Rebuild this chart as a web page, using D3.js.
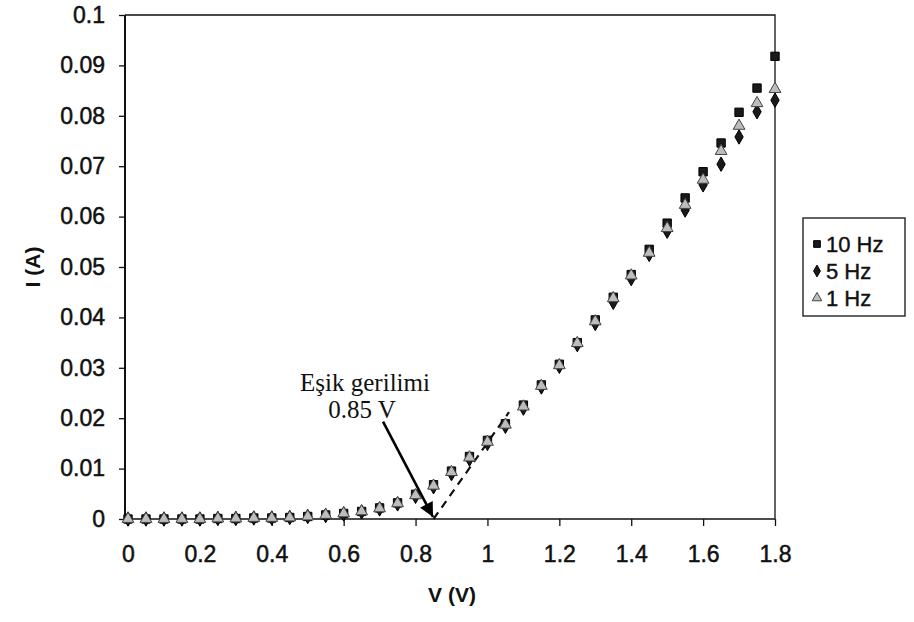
<!DOCTYPE html>
<html>
<head>
<meta charset="utf-8">
<script src="https://cdn.jsdelivr.net/npm/d3@7"></script>
<style>
  html, body { margin: 0; padding: 0; background: #fff; }
  svg { display: block; }
</style>
</head>
<body>
<svg id="chart" width="914" height="622"></svg>
<script>
// ---- data ----
const voltage = [0, 0.05, 0.1, 0.15, 0.2, 0.25, 0.3, 0.35, 0.4, 0.45, 0.5, 0.55, 0.6, 0.65, 0.7, 0.75, 0.8, 0.85, 0.9, 0.95,
                 1.0, 1.05, 1.1, 1.15, 1.2, 1.25, 1.3, 1.35, 1.4, 1.45, 1.5, 1.55, 1.6, 1.65, 1.7, 1.75, 1.8];
const current10Hz = [0, 0, 0, 0, 0, 0.0001, 0.0001, 0.0002, 0.0002, 0.0003, 0.0005, 0.0008, 0.0011, 0.0015, 0.0022, 0.0032, 0.0049, 0.0068, 0.0095, 0.0124,
                     0.0156, 0.0189, 0.0226, 0.0266, 0.0307, 0.0350, 0.0395, 0.0440, 0.0485, 0.0535, 0.0587, 0.0637, 0.0689, 0.0746, 0.0807, 0.0855, 0.0918];
const current5Hz  = [0, 0, 0, 0, 0, 0.0001, 0.0001, 0.0002, 0.0002, 0.0003, 0.0005, 0.0007, 0.0010, 0.0014, 0.0020, 0.0030, 0.0045, 0.0064, 0.0090, 0.0119,
                     0.0150, 0.0184, 0.0220, 0.0262, 0.0303, 0.0346, 0.0388, 0.0430, 0.0477, 0.0525, 0.0571, 0.0613, 0.0663, 0.0704, 0.0758, 0.0808, 0.0831];
const current1Hz  = [0, 0, 0, 0, 0, 0.0001, 0.0001, 0.0002, 0.0002, 0.0003, 0.0005, 0.0008, 0.0011, 0.0015, 0.0021, 0.0031, 0.0047, 0.0066, 0.0093, 0.0122,
                     0.0153, 0.0187, 0.0223, 0.0264, 0.0305, 0.0349, 0.0392, 0.0438, 0.0483, 0.0528, 0.0577, 0.0623, 0.0673, 0.0730, 0.0780, 0.0825, 0.0853];
const seriesNames = ["10 Hz", "5 Hz", "1 Hz"];
const xTicks = [0, 0.2, 0.4, 0.6, 0.8, 1, 1.2, 1.4, 1.6, 1.8];
const yTicks = [0, 0.01, 0.02, 0.03, 0.04, 0.05, 0.06, 0.07, 0.08, 0.09, 0.1];
const tangentV = [0.85, 1.06];
const tangentI = [0, 0.0212];
const annotationLines = ["Eşik gerilimi", "0.85 V"];
const arrowFrom = [0.7095, 0.0193];
const arrowTo = [0.8486, 0.0004];

// ---- layout ----
const svg = d3.select("#chart");
const plot = { left: 125, right: 775, top: 15, bottom: 519 };
const x = d3.scaleLinear().domain([0, 1.8]).range([128, 775]);
const y = d3.scaleLinear().domain([0, 0.1]).range([519, 15]);
const tickFont = "'Liberation Sans', Arial, sans-serif";

// plot border (top & right)
svg.append("path")
  .attr("d", `M${plot.left},${plot.top}H${plot.right}V${plot.bottom}`)
  .attr("fill", "none").attr("stroke", "#111").attr("stroke-width", 1.3);

// axes
const xAxis = d3.axisBottom(x).tickValues(xTicks).tickSize(7).tickPadding(20)
  .tickFormat(d => String(d));
const gx = svg.append("g").attr("transform", `translate(0,${plot.bottom})`).call(xAxis);
gx.select(".domain").attr("d", `M${plot.left},0H${plot.right}`).attr("stroke", "#111").attr("stroke-width", 1.5);
gx.selectAll(".tick line").attr("stroke", "#111").attr("stroke-width", 1.3);
gx.selectAll(".tick text").attr("font-family", tickFont).attr("font-size", 23).attr("fill", "#111")
  .attr("stroke", "#111").attr("stroke-width", 0.5);

const yAxis = d3.axisLeft(y).tickValues(yTicks).tickSize(6).tickPadding(14)
  .tickFormat(d => String(+d.toFixed(2)));
const gy = svg.append("g").attr("transform", `translate(${plot.left},0)`).call(yAxis);
gy.select(".domain").attr("d", `M0,${plot.top}V${plot.bottom}`).attr("stroke", "#111").attr("stroke-width", 2);
gy.selectAll(".tick line").attr("stroke", "#111").attr("stroke-width", 1.3);
gy.selectAll(".tick text").attr("font-family", tickFont).attr("font-size", 23).attr("fill", "#111")
  .attr("stroke", "#111").attr("stroke-width", 0.5);

// axis titles
svg.append("text").attr("x", 452).attr("y", 602).attr("text-anchor", "middle")
  .attr("font-family", tickFont).attr("font-weight", "bold").attr("font-size", 21).attr("fill", "#111")
  .text("V (V)");
svg.append("text").attr("transform", "translate(40,267) rotate(-90)").attr("text-anchor", "middle")
  .attr("font-family", tickFont).attr("font-weight", "bold").attr("font-size", 21).attr("fill", "#111")
  .text("I (A)");

// tangent dashed line
svg.append("line")
  .attr("x1", x(tangentV[0])).attr("y1", y(tangentI[0]))
  .attr("x2", x(tangentV[1])).attr("y2", y(tangentI[1]))
  .attr("stroke", "#111").attr("stroke-width", 2.2).attr("stroke-dasharray", "8,6");

// markers
const symSquare = d3.symbol().type(d3.symbolSquare).size(70);
const symDiamond = d3.symbol().type(d3.symbolDiamond).size(60);
const symTriangle = d3.symbol().type(d3.symbolTriangle).size(60);
const series = [
  { name: seriesNames[0], values: current10Hz, sym: symSquare, fill: "#1a1a1a", stroke: "#000" },
  { name: seriesNames[1], values: current5Hz, sym: symDiamond, fill: "#1a1a1a", stroke: "#000" },
  { name: seriesNames[2], values: current1Hz, sym: symTriangle, fill: "#bdbdbd", stroke: "#444" }
];
series.forEach(s => {
  svg.append("g").selectAll("path").data(voltage.map((v, i) => [v, s.values[i]])).join("path")
    .attr("d", s.sym)
    .attr("transform", d => `translate(${x(d[0])},${y(d[1])})`)
    .attr("fill", s.fill).attr("stroke", s.stroke).attr("stroke-width", 1);
});

// annotation arrow
svg.append("defs").append("marker").attr("id", "arrowhead")
  .attr("viewBox", "0 0 10 10").attr("refX", 10).attr("refY", 5)
  .attr("markerWidth", 7).attr("markerHeight", 5.5).attr("markerUnits", "strokeWidth")
  .attr("orient", "auto")
  .append("path").attr("d", "M0,0L10,5L0,10Z").attr("fill", "#000");
svg.append("line")
  .attr("x1", x(arrowFrom[0])).attr("y1", y(arrowFrom[1]))
  .attr("x2", x(arrowTo[0])).attr("y2", y(arrowTo[1]))
  .attr("stroke", "#000").attr("stroke-width", 2.6).attr("marker-end", "url(#arrowhead)");

const serif = "'Liberation Serif', 'Times New Roman', serif";
svg.append("text").attr("x", 365).attr("y", 391).attr("text-anchor", "middle")
  .attr("font-family", serif).attr("font-size", 25).attr("fill", "#111").text(annotationLines[0]);
svg.append("text").attr("x", 362).attr("y", 418).attr("text-anchor", "middle")
  .attr("font-family", serif).attr("font-size", 25).attr("fill", "#111").text(annotationLines[1]);

// legend
const lg = svg.append("g");
lg.append("rect").attr("x", 803).attr("y", 218).attr("width", 102).attr("height", 98)
  .attr("fill", "#fff").attr("stroke", "#111").attr("stroke-width", 1.3);
const legendSyms = [
  d3.symbol().type(d3.symbolSquare).size(45),
  d3.symbol().type(d3.symbolDiamond).size(40),
  d3.symbol().type(d3.symbolTriangle).size(40)
];
series.forEach((s, i) => {
  const cy = 244 + i * 27;
  lg.append("path").attr("d", legendSyms[i]).attr("transform", `translate(817,${cy})`)
    .attr("fill", s.fill).attr("stroke", s.stroke).attr("stroke-width", 1);
  lg.append("text").attr("x", 826).attr("y", cy + 8)
    .attr("font-family", tickFont).attr("font-size", 22).attr("fill", "#111")
    .attr("stroke", "#111").attr("stroke-width", 0.4).text(s.name);
});
</script>
</body>
</html>
